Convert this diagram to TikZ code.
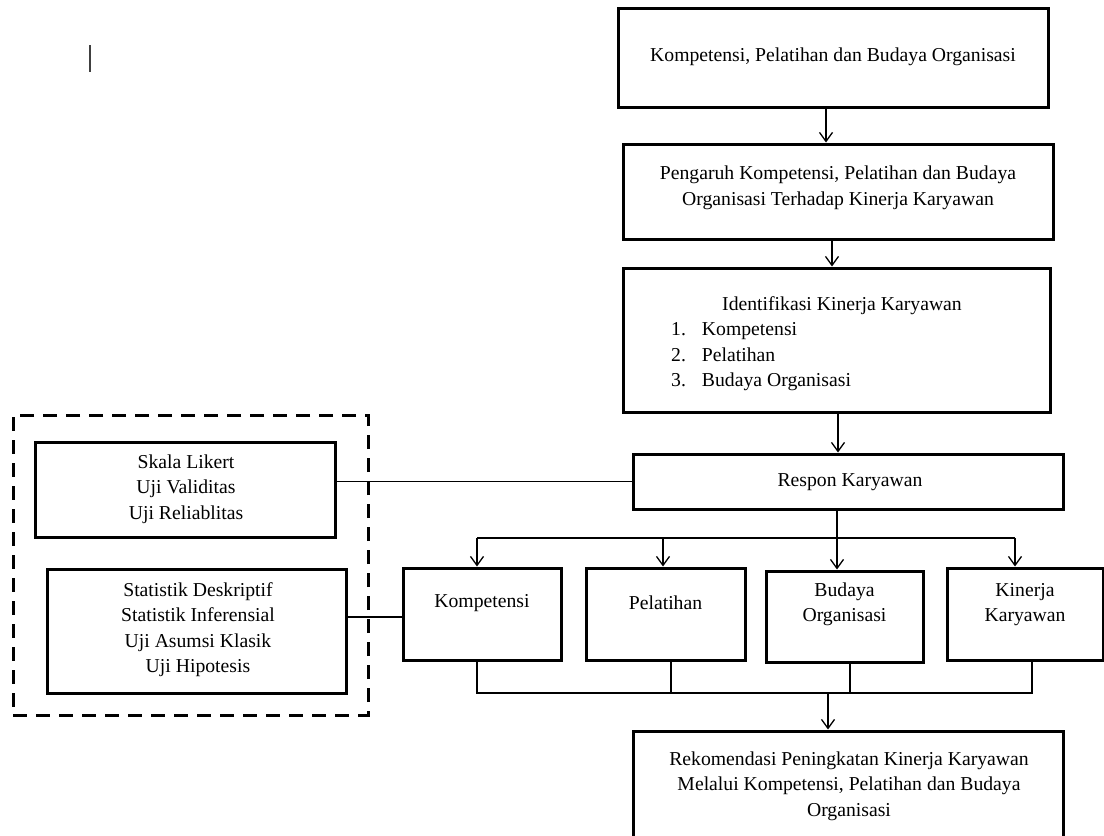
\documentclass[tikz,border=0pt]{standalone}
\usepackage{fontspec}
\setmainfont{Liberation Serif}
\usetikzlibrary{arrows.meta,calc}
\begin{document}
\begin{tikzpicture}[x=1pt,y=-1pt,
  box/.style n args={2}{draw,line width=3pt,minimum width=#1,minimum height=#2,inner sep=0pt},
  txt/.style={font=\fontsize{19.7}{25.5}\selectfont,align=center,inner sep=0pt},
  conn/.style={line width=1.3pt},
  arr/.style={conn,-{Straight Barb[length=9pt,width=13pt]}},
  dashbox/.style={draw,line width=3pt,dash pattern=on 14pt off 9pt,inner sep=0pt}]
\path[use as bounding box] (0,0) rectangle (1104,836);
\clip (0,0) rectangle (1104,836);

% cursor mark
\draw[line width=2.2pt,black!75] (90,45) -- (90,72);

% main column
\node[box={430}{99}] (top) at (833,57.5) {};
\node[txt] (ttop) at (833,57) {Kompetensi, Pelatihan dan Budaya Organisasi};

\node[box={430}{95}] (b2) at (838,191.5) {};
\node[txt] (tb2) at (838,188) {Pengaruh Kompetensi, Pelatihan dan Budaya\\Organisasi Terhadap Kinerja Karyawan};

\node[box={427}{144}] (b3) at (836.5,340) {};
\node[txt] (tb3) at (842,306) {Identifikasi Kinerja Karyawan};
\node[txt,align=left,anchor=west] (lb3) at (671,357) {1.\hspace{16pt}Kompetensi\\2.\hspace{16pt}Pelatihan\\3.\hspace{16pt}Budaya Organisasi};

\node[box={430}{55}] (resp) at (848,481.5) {};
\node[txt] (tresp) at (850,482) {Respon Karyawan};

% four boxes
\node[box={158}{92}] (komp) at (482,614) {};
\node[txt] (tkomp) at (482,603) {Kompetensi};
\node[box={159}{92}] (pel) at (665.5,614) {};
\node[txt] (tpel) at (665.5,603) {Pelatihan};
\node[box={157}{91}] (bud) at (844.5,616.5) {};
\node[txt] (tbud) at (844.5,604.5) {Budaya\\Organisasi};
\node[box={156}{92}] (kin) at (1025,614) {};
\node[txt] (tkin) at (1025,604.5) {Kinerja\\Karyawan};

% bottom box
\node[box={430}{170}] (rek) at (848,816) {};
\node[txt] (trek) at (849,786) {Rekomendasi Peningkatan Kinerja Karyawan\\Melalui Kompetensi, Pelatihan dan Budaya\\Organisasi};

% left dashed group
\node[dashbox,minimum width=355,minimum height=300] (grp) at (190.5,565) {};
\node[box={300}{95}] (skala) at (185,489.5) {};
\node[txt] (tskala) at (186,489) {Skala Likert\\Uji Validitas\\Uji Reliablitas};
\node[box={299}{124}] (stat) at (196.5,631) {};
\node[txt] (tstat) at (198,629.5) {Statistik Deskriptif\\Statistik Inferensial\\Uji Asumsi Klasik\\Uji Hipotesis};

% vertical arrows in main column
\draw[arr] (826,0 |- top.south) -- (826,0 |- b2.north);
\draw[arr] (832,0 |- b2.south) -- (832,0 |- b3.north);
\draw[arr] (838,0 |- b3.south) -- (838,0 |- resp.north);

% branching below Respon
\coordinate (hL) at (477,538);
\coordinate (hP) at (663,538);
\coordinate (hR) at (1015,538);
\draw[conn] (hL) -- (hR);
\draw[arr] (837,0 |- resp.south) -- (837,0 |- bud.north);
\draw[arr] (hL) -- (hL |- komp.north);
\draw[arr] (hP) -- (hP |- pel.north);
\draw[arr] (hR) -- (hR |- kin.north);

% joining to recommendation
\coordinate (jL) at (477,693);
\coordinate (jP) at (671,693);
\coordinate (jB) at (850,693);
\coordinate (jR) at (1032,693);
\coordinate (jA) at (828,693);
\draw[conn] (jL |- komp.south) -- (jL) -- (jR) -- (jR |- kin.south);
\draw[conn] (jP |- pel.south) -- (jP);
\draw[conn] (jB |- bud.south) -- (jB);
\draw[arr] (jA) -- (jA |- rek.north);

% left links
\draw[conn] (resp.west) -- (resp.west -| skala.east);
\draw[conn] ([yshift=-3pt]komp.west) -- ([yshift=-3pt]komp.west -| stat.east);
\end{tikzpicture}
\end{document}
